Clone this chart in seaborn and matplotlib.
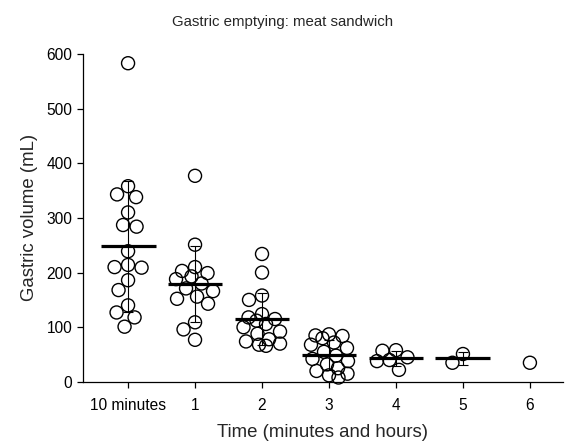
import numpy as np
import pandas as pd
import matplotlib
matplotlib.use("Agg")
import matplotlib.pyplot as plt
import seaborn as sns

# gastric volume (mL) per time point
time_labels = ["10 minutes", "1", "2", "3", "4", "5", "6"]
vol_10min = [583, 358, 343, 338, 310, 287, 284, 239, 214, 210, 209, 186, 168, 140, 127, 118, 101]
vol_1h = [377, 251, 210, 203, 199, 193, 188, 180, 171, 166, 156, 152, 143, 109, 96, 77]
vol_2h = [234, 200, 158, 150, 124, 118, 115, 112, 106, 100, 92, 88, 78, 74, 70, 68, 66]
vol_3h = [87, 85, 84, 80, 72, 68, 62, 55, 48, 42, 38, 32, 25, 20, 15, 12, 8]
vol_4h = [58, 57, 45, 40, 38, 22]
vol_5h = [51, 35]
vol_6h = [35]
groups = [vol_10min, vol_1h, vol_2h, vol_3h, vol_4h, vol_5h, vol_6h]


def swarm_offsets(values, px_per_x, px_per_y, d=13.5, half_width=19.0):
    # deterministic beeswarm in pixel space; when a point can't fit inside
    # the band it goes where it overlaps least (like Prism's scatter)
    values = np.asarray(values, dtype=float)
    placed = []
    offs = np.zeros(len(values))
    steps = sorted(np.arange(-half_width, half_width + 0.5, 0.5),
                   key=lambda c: (abs(c), c))
    for i in np.argsort(values)[::-1]:
        y = values[i] * px_per_y
        best, best_gap = 0.0, -1.0
        for c in steps:
            gap = min([np.hypot(c - px, y - py) for px, py in placed] or [1e9])
            if gap >= d:
                best = c
                break
            if gap > best_gap + 0.5:
                best, best_gap = c, gap
        placed.append((best, y))
        offs[i] = best / px_per_x
    return offs


sns.set_style("ticks")
plt.rcParams["font.family"] = ["Liberation Sans", "DejaVu Sans"]

fig = plt.figure(figsize=(5.65, 4.42), dpi=100)
ax = fig.add_axes([0.147, 0.136, 0.849, 0.742])
ax.set_xlim(-0.672, 6.49)
ax.set_ylim(0, 600)

# pixel scale of the axes, used for the swarm layout
p0, p1 = ax.transData.transform([(0, 0), (1, 100)])
px_x = p1[0] - p0[0]
px_y = (p1[1] - p0[1]) / 100

rows = []
for i, vals in enumerate(groups):
    offs = swarm_offsets(vals, px_x, px_y)
    for v, o in zip(vals, offs):
        rows.append({"time": i, "volume": v, "xpos": i + o})
df = pd.DataFrame(rows)

sns.scatterplot(data=df, x="xpos", y="volume", s=88, facecolors="none",
                edgecolor="black", linewidth=1.0, clip_on=False,
                legend=False, ax=ax, zorder=3)

# mean +/- SD
stats = df.groupby("time")["volume"].agg(["mean", "std", "count"])
for i, row in stats.iterrows():
    if row["count"] < 2:
        continue
    ax.hlines(row["mean"], i - 0.41, i + 0.41, color="black", lw=2.3, zorder=4)
    ax.errorbar(i, row["mean"], yerr=row["std"], fmt="none", ecolor="black",
                elinewidth=0.8, capsize=3.6, capthick=0.8, zorder=4)

ax.set_xticks(range(len(time_labels)))
ax.set_xticklabels(time_labels)
ax.set_yticks(range(0, 601, 100))
ax.tick_params(axis="both", direction="out", length=4.3, width=0.9,
               labelsize=11.2, colors="black")
ax.tick_params(axis="x", pad=7)
ax.tick_params(axis="y", pad=3.5)
for side in ["left", "bottom"]:
    ax.spines[side].set_linewidth(0.9)
    ax.spines[side].set_color("black")
sns.despine(ax=ax)

ax.set_xlabel("Time (minutes and hours)", fontsize=13.4, labelpad=8)
ax.set_ylabel("Gastric volume (mL)", fontsize=13.4, labelpad=6)
fig.text(0.5, 0.95, "Gastric emptying: meat sandwich", fontsize=10.8,
         ha="center", va="center")

fig.savefig("out.png", dpi=100)
